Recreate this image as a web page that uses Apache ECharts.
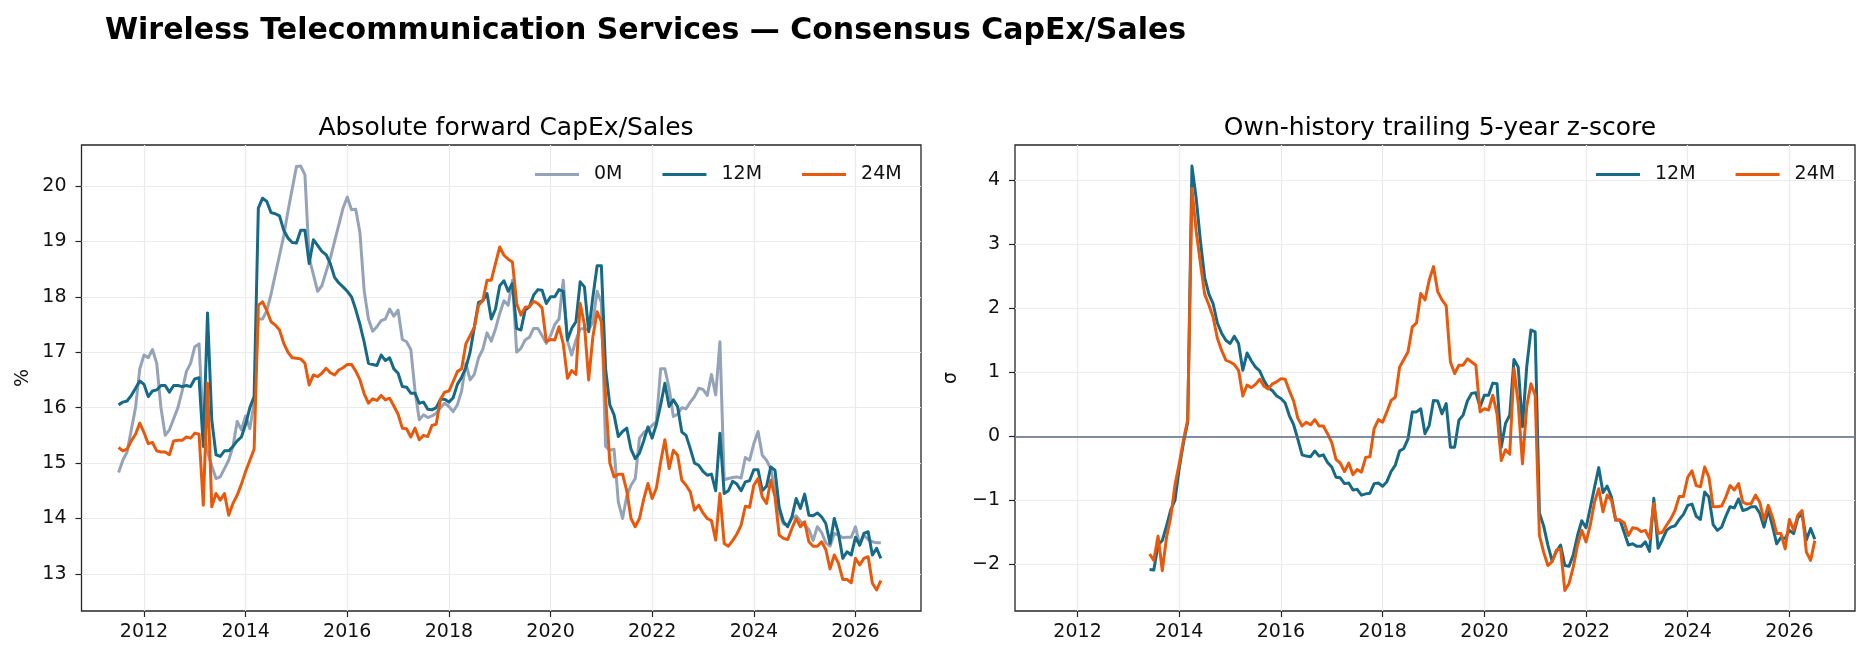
<!DOCTYPE html>
<html>
<head>
<meta charset="utf-8">
<title>Wireless Telecommunication Services — Consensus CapEx/Sales</title>
<script src="https://cdn.jsdelivr.net/npm/echarts@6/dist/echarts.min.js"></script>
<style>
  html, body { margin: 0; padding: 0; background: #fff; }
  #chart { width: 1869px; height: 659px; }
</style>
</head>
<body>
<div id="chart"></div>
<script>
// monthly observations, July 2011 .. July 2026
const firstYear = 2011;
const firstMonth = 7;
const monthCount = 181;
const zFirstIndex = 23; // z-scores start June 2013

const yearTicks = [2012, 2014, 2016, 2018, 2020, 2022, 2024, 2026];
const pctTicks = [13, 14, 15, 16, 17, 18, 19, 20];
const zTicks = [-2, -1, 0, 1, 2, 3, 4];

// forward CapEx/Sales, %
const capex0M = [
  14.83, 15.05, 15.2, 15.6, 16.0, 16.7, 16.95, 16.9, 17.05, 16.8, 16.0, 15.5, 15.6, 15.8, 16.0, 16.3, 16.65, 16.8, 17.1, 17.15,
  15.6, 15.2, 14.95, 14.72, 14.75, 14.9, 15.05, 15.3, 15.75, 15.6, 15.85, 15.62, 16.1, 17.6, 17.6, 17.75, 18.05, 18.4, 18.75, 19.1,
  19.55, 19.95, 20.35, 20.36, 20.2, 18.7, 18.4, 18.1, 18.2, 18.45, 18.7, 19.0, 19.3, 19.6, 19.8, 19.57, 19.58, 19.15, 18.1, 17.6,
  17.38, 17.46, 17.57, 17.6, 17.78, 17.65, 17.76, 17.23, 17.19, 17.05, 16.3, 15.78, 15.87, 15.82, 15.85, 15.9, 16.0, 16.08, 16.02, 15.93,
  16.05, 16.3, 16.8, 16.5, 16.6, 16.9, 17.05, 17.35, 17.2, 17.42, 17.7, 17.93, 17.85, 18.3, 17.0, 17.07, 17.22, 17.27, 17.43, 17.43,
  17.3, 17.16, 17.3, 17.5, 17.6, 18.3, 17.2, 16.95, 17.22, 17.42, 17.43, 17.4, 17.55, 18.1, 17.9, 15.3, 15.23, 15.25, 14.3, 14.0,
  14.4, 14.6, 14.72, 15.45, 15.55, 15.6, 15.68, 15.75, 16.7, 16.7, 16.35, 15.84, 15.88, 16.0, 15.98, 16.1, 16.2, 16.35, 16.33, 16.22,
  16.6, 16.23, 17.19, 14.7, 14.72, 14.74, 14.75, 14.73, 15.1, 15.05, 15.35, 15.57, 15.14, 15.05, 14.9, 14.5, 14.1, 13.9, 13.88, 14.0,
  14.05, 13.95, 13.88, 13.8, 13.6, 13.85, 13.75, 13.56, 13.5, 13.73, 13.7, 13.65, 13.66, 13.66, 13.85, 13.52, 13.7, 13.62, 13.58, 13.56, 13.56
];
const capex12M = [
  16.05, 16.1, 16.12, 16.22, 16.35, 16.48, 16.42, 16.2, 16.3, 16.32, 16.4, 16.4, 16.28, 16.4, 16.4, 16.38, 16.4, 16.38, 16.52, 16.54,
  15.3, 17.71, 15.78, 15.15, 15.12, 15.22, 15.22, 15.3, 15.4, 15.47, 15.7, 16.0, 16.2, 19.6, 19.78, 19.72, 19.52, 19.5, 19.46, 19.2,
  19.06, 18.98, 18.97, 19.2, 19.2, 18.6, 19.03, 18.93, 18.82, 18.76, 18.6, 18.35, 18.25, 18.18, 18.1, 18.0, 17.77, 17.5, 17.18, 16.8,
  16.78, 16.76, 16.95, 16.85, 16.9, 16.7, 16.62, 16.38, 16.37, 16.26, 16.26, 16.08, 16.1, 15.97, 15.96, 16.0, 16.15, 16.15, 16.1, 16.18,
  16.42, 16.55, 16.72, 17.0, 17.45, 17.9, 17.93, 18.06, 17.6, 17.78, 18.2, 18.29, 18.1, 18.24, 17.43, 17.4, 17.76, 17.82, 18.03, 18.13,
  18.12, 17.88, 18.0, 18.0, 18.13, 18.1, 17.22, 17.43, 17.55, 18.27, 18.18, 17.37, 18.0, 18.56, 18.56, 16.7, 16.05, 15.87, 15.48, 15.57,
  15.63, 15.25, 15.08, 15.18, 15.4, 15.65, 15.45, 15.7, 16.05, 16.44, 16.02, 16.14, 16.02, 15.56, 15.5, 15.26, 15.0, 14.96, 14.85, 14.78,
  14.8, 14.5, 15.54, 14.45, 14.5, 14.67, 14.62, 14.5, 14.66, 14.68, 14.88, 14.88, 14.5, 14.58, 14.93, 14.87, 14.2, 13.94, 13.85, 14.03,
  14.36, 14.18, 14.44, 14.06, 14.05, 14.1, 14.03, 13.91, 13.55, 14.0, 13.73, 13.28, 13.4, 13.34, 13.66, 13.52, 13.73, 13.76, 13.34, 13.46, 13.28
];
const capex24M = [
  15.28, 15.22, 15.25, 15.4, 15.52, 15.72, 15.55, 15.35, 15.37, 15.22, 15.2, 15.2, 15.15, 15.4, 15.41, 15.41, 15.47, 15.45, 15.54, 15.52,
  14.24, 16.44, 14.21, 14.45, 14.33, 14.45, 14.06, 14.27, 14.42, 14.62, 14.85, 15.05, 15.25, 17.85, 17.91, 17.75, 17.55, 17.49, 17.4, 17.16,
  17.0, 16.9, 16.89, 16.88, 16.8, 16.41, 16.59, 16.56, 16.62, 16.71, 16.63, 16.59, 16.68, 16.72, 16.78, 16.78, 16.66, 16.5, 16.25, 16.08,
  16.16, 16.13, 16.22, 16.14, 16.17, 16.03, 15.88, 15.63, 15.62, 15.47, 15.63, 15.42, 15.5, 15.48, 15.68, 15.7, 16.15, 16.28, 16.3, 16.47,
  16.65, 16.7, 17.15, 17.3, 17.45, 17.85, 17.93, 18.3, 18.3, 18.6, 18.9, 18.75, 18.68, 18.63, 17.88, 17.67, 17.81, 17.82, 17.92, 17.88,
  17.8, 17.19, 17.23, 17.22, 17.46, 17.15, 16.53, 16.67, 16.6, 17.88, 17.5, 16.5, 17.28, 17.73, 17.55, 16.2, 15.0, 14.75, 14.8, 14.8,
  14.5, 14.0, 13.85, 14.0, 14.35, 14.63, 14.36, 14.55, 15.02, 15.42, 14.9, 15.23, 15.14, 14.69, 14.6, 14.48, 14.15, 14.24, 14.1, 14.0,
  13.96, 13.61, 14.45, 13.55, 13.5, 13.6, 13.72, 13.88, 14.22, 14.2, 14.6, 14.72, 14.39, 14.27, 14.69, 14.39, 13.7, 13.64, 13.62, 13.82,
  14.0, 13.85, 13.94, 13.58, 13.5, 13.5, 13.58, 13.44, 13.09, 13.34, 13.19, 12.9, 12.9, 12.84, 13.28, 13.16, 13.28, 13.31, 12.83, 12.71, 12.88
];

// trailing 5-year z-scores, from June 2013
const z12M = [
  -2.08, -2.09, -1.7, -1.63, -1.4, -1.15, -1.0, -0.5, -0.1, 0.22, 4.22, 3.72, 3.05, 2.48, 2.22, 2.07, 1.77,
  1.61, 1.5, 1.45, 1.56, 1.45, 1.03, 1.3, 1.18, 1.08, 1.02, 0.87, 0.76, 0.71, 0.63, 0.59, 0.52, 0.32, 0.18, -0.05, -0.29,
  -0.31, -0.32, -0.23, -0.31, -0.29, -0.41, -0.48, -0.64, -0.65, -0.74, -0.73, -0.84, -0.83, -0.92, -0.9, -0.89, -0.74, -0.73, -0.78, -0.71,
  -0.55, -0.45, -0.23, -0.19, -0.04, 0.38, 0.38, 0.43, 0.04, 0.17, 0.56, 0.55, 0.35, 0.51, -0.17, -0.17, 0.25, 0.33, 0.55, 0.67,
  0.68, 0.46, 0.64, 0.64, 0.83, 0.82, -0.17, 0.2, 0.33, 1.2, 1.08, 0.15, 1.08, 1.66, 1.63, -1.2, -1.4, -1.7, -1.95, -1.8,
  -1.7, -2.02, -2.03, -1.85, -1.55, -1.32, -1.43, -1.12, -0.8, -0.49, -0.88, -0.78, -0.95, -1.31, -1.31, -1.5, -1.7, -1.68, -1.72, -1.72,
  -1.65, -1.8, -0.97, -1.75, -1.62, -1.47, -1.42, -1.4, -1.3, -1.22, -1.08, -1.06, -1.25, -1.3, -0.87, -0.95, -1.38, -1.47, -1.42, -1.25,
  -1.1, -1.12, -0.98, -1.16, -1.14, -1.1, -1.1, -1.2, -1.42, -1.15, -1.4, -1.68, -1.58, -1.6, -1.47, -1.52, -1.27, -1.22, -1.62, -1.44, -1.61
];
const z24M = [
  -1.84, -1.94, -1.56, -2.1, -1.58, -1.26, -0.76, -0.43, -0.06, 0.26, 3.87, 3.2, 2.7, 2.22, 2.05, 1.86, 1.53,
  1.34, 1.19, 1.16, 1.12, 1.03, 0.63, 0.8, 0.76, 0.81, 0.89, 0.78, 0.74, 0.82, 0.85, 0.9, 0.89, 0.71, 0.55, 0.28, 0.16,
  0.22, 0.18, 0.26, 0.16, 0.16, 0.04, -0.1, -0.36, -0.42, -0.55, -0.42, -0.6, -0.52, -0.56, -0.33, -0.32, 0.12, 0.26, 0.22, 0.38,
  0.56, 0.61, 1.08, 1.2, 1.32, 1.71, 1.77, 2.23, 2.13, 2.44, 2.65, 2.26, 2.13, 2.04, 1.16, 0.98, 1.11, 1.11, 1.21, 1.16,
  1.11, 0.38, 0.43, 0.41, 0.64, 0.35, -0.38, -0.21, -0.28, 1.06, 0.51, -0.43, 0.46, 0.82, 0.64, -1.55, -1.81, -2.02, -1.96, -1.78,
  -1.76, -2.41, -2.3, -2.04, -1.7, -1.47, -1.65, -1.39, -1.03, -0.82, -1.18, -0.92, -1.0, -1.31, -1.31, -1.35, -1.55, -1.43, -1.44, -1.49,
  -1.47, -1.6, -1.05, -1.52, -1.5, -1.39, -1.29, -1.16, -0.94, -0.94, -0.64, -0.54, -0.77, -0.79, -0.48, -0.64, -1.1, -1.1, -1.09, -0.95,
  -0.77, -0.84, -0.74, -1.03, -1.06, -1.05, -0.92, -1.03, -1.31, -1.08, -1.26, -1.52, -1.52, -1.76, -1.3, -1.47, -1.23, -1.16, -1.81, -1.94, -1.63
];

const FONT = 'DejaVu Sans';
const INK = '#262626';
const C0 = '#94a3b8';
const C12 = '#176a86';
const C24 = '#e8590c';

// decimal year for each month
const monthX = [];
for (let i = 0; i < monthCount; i++) {
  monthX.push(firstYear + (firstMonth - 1 + i) / 12);
}

function pairs(values, offset) {
  return values.map((v, k) => [monthX[k + offset], v]);
}

function minusSign(v) {
  return v < 0 ? '\u2212' + Math.abs(v) : String(v);
}

function xAxisFor(gridIndex) {
  return {
    type: 'value',
    gridIndex: gridIndex,
    min: 2010.77,
    max: 2027.29,
    axisLine: { show: false, onZero: false },
    axisTick: { show: true, length: 6, customValues: yearTicks, lineStyle: { color: INK, width: 1.2 } },
    axisLabel: { customValues: yearTicks, formatter: v => String(Math.round(v)), fontFamily: FONT, fontSize: 19, color: '#111', margin: 12 },
    splitLine: { show: true, lineStyle: { color: '#ebebeb', width: 1.2 } }
  };
}

function yAxisFor(gridIndex, min, max, ticks, name, gap) {
  return {
    type: 'value',
    gridIndex: gridIndex,
    min: min,
    max: max,
    name: name,
    nameLocation: 'middle',
    nameGap: gap,
    nameRotate: 90,
    nameTextStyle: { fontFamily: FONT, fontSize: 19, color: '#111' },
    axisLine: { show: false, onZero: false },
    axisTick: { show: true, length: 6, customValues: ticks, lineStyle: { color: INK, width: 1.2 } },
    axisLabel: { customValues: ticks, formatter: minusSign, fontFamily: FONT, fontSize: 19, color: '#111', margin: 15 },
    splitLine: { show: true, lineStyle: { color: '#ebebeb', width: 1.2 } }
  };
}

function lineSeries(name, color, data, axisIndex) {
  return {
    name: name,
    type: 'line',
    xAxisIndex: axisIndex,
    yAxisIndex: axisIndex,
    data: data,
    symbol: 'none',
    showSymbol: false,
    lineStyle: { color: color, width: 3, join: 'round' },
    itemStyle: { color: color },
    emphasis: { disabled: true }
  };
}

const legendText = { fontFamily: FONT, fontSize: 19, color: '#111', padding: [0, 0, 0, 10] };

const chart = echarts.init(document.getElementById('chart'), null, { renderer: 'canvas' });
chart.setOption({
  animation: false,
  backgroundColor: '#ffffff',
  title: [
    {
      text: 'Wireless Telecommunication Services — Consensus CapEx/Sales',
      left: 100, top: 11,
      textStyle: { fontFamily: FONT, fontSize: 30, fontWeight: 'bold', color: '#000' }
    },
    {
      text: 'Absolute forward CapEx/Sales',
      left: 501, top: 111, textAlign: 'center',
      textStyle: { fontFamily: FONT, fontSize: 25, fontWeight: 'normal', color: '#000' }
    },
    {
      text: 'Own-history trailing 5-year z-score',
      left: 1435, top: 111, textAlign: 'center',
      textStyle: { fontFamily: FONT, fontSize: 25, fontWeight: 'normal', color: '#000' }
    }
  ],
  legend: [
    {
      data: ['0M', '12M', '24M'],
      left: 535, top: 165, padding: 0,
      icon: 'rect', itemWidth: 44, itemHeight: 3.2, itemGap: 40,
      textStyle: legendText,
      selectedMode: false
    },
    {
      data: ['12M', '24M'],
      left: 1596, top: 165, padding: 0,
      icon: 'rect', itemWidth: 44, itemHeight: 3.2, itemGap: 40,
      textStyle: legendText,
      selectedMode: false
    }
  ],
  grid: [
    { left: 81.5, top: 145, width: 839.5, height: 466, show: true, borderColor: INK, borderWidth: 1.3, backgroundColor: 'transparent' },
    { left: 1015, top: 145, width: 840, height: 466, show: true, borderColor: INK, borderWidth: 1.3, backgroundColor: 'transparent' }
  ],
  xAxis: [xAxisFor(0), xAxisFor(1)],
  yAxis: [
    yAxisFor(0, 12.33, 20.74, pctTicks, '%', 49),
    yAxisFor(1, -2.73, 4.55, zTicks, 'σ', 54)
  ],
  series: [
    lineSeries('0M', C0, pairs(capex0M, 0), 0),
    lineSeries('12M', C12, pairs(capex12M, 0), 0),
    lineSeries('24M', C24, pairs(capex24M, 0), 0),
    Object.assign(lineSeries('12M', C12, pairs(z12M, zFirstIndex), 1), {
      markLine: {
        silent: true,
        symbol: 'none',
        label: { show: false },
        lineStyle: { color: '#5b6b82', width: 1.5, type: 'solid' },
        data: [{ yAxis: 0 }]
      }
    }),
    lineSeries('24M', C24, pairs(z24M, zFirstIndex), 1)
  ]
});
</script>
</body>
</html>
